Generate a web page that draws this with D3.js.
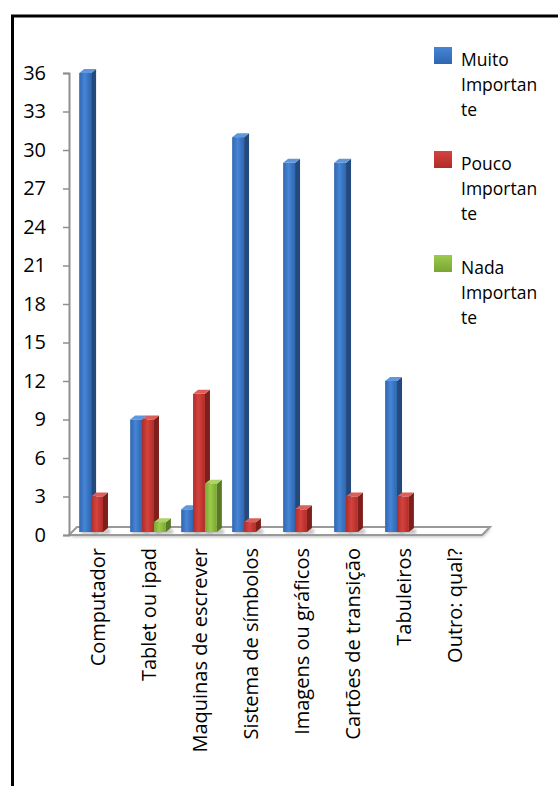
<!DOCTYPE html>
<html>
<head>
<meta charset="utf-8">
<script src="https://cdn.jsdelivr.net/npm/d3@7"></script>
<style>
  html, body { margin: 0; padding: 0; background: #fff; }
  svg { display: block; }
  text { font-family: "Open Sans", Lato, sans-serif; fill: #000; }
</style>
</head>
<body>
<svg id="chart" width="558" height="786"></svg>
<script>
// Recursos e grau de importância
const categories = [
  "Computador", "Tablet ou ipad", "Maquinas de escrever", "Sistema de símbolos",
  "Imagens ou gráficos", "Cartões de transição", "Tabuleiros", "Outro: qual?"
];
const seriesNames = ["Muito Importante", "Pouco Importante", "Nada Importante"];
const legendLines = [["Muito", "Importan", "te"], ["Pouco", "Importan", "te"], ["Nada", "Importan", "te"]];
const muitoImportante = [36, 9, 2, 31, 29, 29, 12, 0];
const poucoImportante = [3, 9, 11, 1, 2, 3, 3, 0];
const nadaImportante  = [0, 1, 4, 0, 0, 0, 0, 0];
const yTicks = [0, 3, 6, 9, 12, 15, 18, 21, 24, 27, 30, 33, 36];

const seriesValues = [muitoImportante, poucoImportante, nadaImportante];
const palette = [
  { front: ["#2f66b0", "#4685d6", "#2f66b0"], side: "#23497d", top: "#5e97dc" },
  { front: ["#b02c28", "#d4433e", "#b02c28"], side: "#7e1f1c", top: "#dd5f5a" },
  { front: ["#7aa534", "#9ccb4c", "#7aa534"], side: "#587a24", top: "#acd465" }
];

const svg = d3.select("#chart");
const defs = svg.append("defs");

// Frame around the chart
svg.append("rect")
  .attr("x", 12.5).attr("y", 16).attr("width", 600).attr("height", 800)
  .attr("fill", "none").attr("stroke", "#000").attr("stroke-width", 3);

const plotLeft = 69, plotRight = 482, plotBottom = 535, plotTop = 73;
const depthX = 5, depthY = 4;

const y = d3.scaleLinear().domain([0, 36]).range([plotBottom, plotTop]);
const x0 = d3.scaleBand().domain(categories).range([plotLeft, plotRight])
  .paddingInner(0.3).paddingOuter(0.2);
const x1 = d3.scaleBand().domain(seriesNames).range([0, x0.bandwidth()]);

// Gradients for bar fronts and legend swatches
palette.forEach((p, i) => {
  const g = defs.append("linearGradient").attr("id", "front" + i)
    .attr("x1", "0%").attr("x2", "100%").attr("y1", "0%").attr("y2", "0%");
  g.append("stop").attr("offset", "0%").attr("stop-color", p.front[0]);
  g.append("stop").attr("offset", "45%").attr("stop-color", p.front[1]);
  g.append("stop").attr("offset", "100%").attr("stop-color", p.front[2]);
  const lg = defs.append("linearGradient").attr("id", "leg" + i)
    .attr("x1", "0%").attr("x2", "0%").attr("y1", "0%").attr("y2", "100%");
  lg.append("stop").attr("offset", "0%").attr("stop-color", p.front[1]);
  lg.append("stop").attr("offset", "100%").attr("stop-color", p.front[0]);
});
const shadow = defs.append("filter").attr("id", "soft").attr("x", "-20%").attr("y", "-20%")
  .attr("width", "140%").attr("height", "160%");
shadow.append("feGaussianBlur").attr("stdDeviation", 1.5);

// Floor of the 3-D plot
const floorPts = [[plotLeft, plotBottom], [plotRight, plotBottom],
  [plotRight + depthX + 3, plotBottom - depthY - 4], [plotLeft + depthX + 3, plotBottom - depthY - 4]];
svg.append("polygon")
  .attr("points", floorPts.map(p => [p[0] + 1, p[1] + 2].join(",")).join(" "))
  .attr("fill", "#bdbdbd").attr("filter", "url(#soft)");
svg.append("polygon")
  .attr("points", floorPts.map(p => p.join(",")).join(" "))
  .attr("fill", "#fff").attr("stroke", "#999").attr("stroke-width", 2);

// Y axis
const yAxis = d3.axisLeft(y).tickValues(yTicks).tickSize(6).tickPadding(8);
const ya = svg.append("g").attr("transform", `translate(${plotLeft},0)`).call(yAxis);
ya.select(".domain").attr("stroke", "#8f8f8f").attr("stroke-width", 2);
ya.selectAll(".tick line").attr("stroke", "#8f8f8f").attr("stroke-width", 1.5);
ya.selectAll(".tick text").attr("font-size", 20).attr("font-family", "'Open Sans', sans-serif")
  .attr("fill", "#000").attr("x", -23);

// Bars, drawn as front / side / top faces
const barData = [];
categories.forEach((c, ci) => {
  seriesNames.forEach((s, si) => {
    const v = seriesValues[si][ci];
    if (v > 0) barData.push({ c, s, si, v });
  });
});
const base = plotBottom - 3;
const bars = svg.append("g").selectAll("g.bar").data(barData).join("g").attr("class", "bar");
bars.each(function (d) {
  const g = d3.select(this);
  const bx = x0(d.c) + x1(d.s);
  const bw = x1.bandwidth();
  const ty = y(d.v);
  const p = palette[d.si];
  // floor shadow
  g.append("rect").attr("x", bx + 2).attr("y", base - 3).attr("width", bw + depthX).attr("height", 5)
    .attr("fill", "#9a9a9a").attr("opacity", 0.6).attr("filter", "url(#soft)");
  g.append("polygon")
    .attr("points", [[bx + bw, ty], [bx + bw + depthX, ty - depthY], [bx + bw + depthX, base - depthY], [bx + bw, base]].map(q => q.join(",")).join(" "))
    .attr("fill", p.side);
  g.append("polygon")
    .attr("points", [[bx, ty], [bx + depthX, ty - depthY], [bx + bw + depthX, ty - depthY], [bx + bw, ty]].map(q => q.join(",")).join(" "))
    .attr("fill", p.top);
  g.append("rect").attr("x", bx).attr("y", ty).attr("width", bw).attr("height", base - ty)
    .attr("fill", `url(#front${d.si})`);
});

// Category labels, rotated
svg.append("g").selectAll("text").data(categories).join("text")
  .attr("transform", d => `translate(${x0(d) + x0.bandwidth() / 2 + 1},548) rotate(-90)`)
  .attr("text-anchor", "end").attr("dy", "0.35em")
  .attr("font-size", 20)
  .text(d => d);

// Legend
const legend = svg.append("g").selectAll("g").data(seriesNames).join("g")
  .attr("transform", (d, i) => `translate(434,${47 + i * 104})`);
legend.append("rect").attr("width", 18).attr("height", 17)
  .attr("fill", (d, i) => `url(#leg${i})`);
legend.append("text").attr("x", 27).attr("y", 19).attr("font-size", 17.5)
  .selectAll("tspan").data((d, i) => legendLines[i]).join("tspan")
  .attr("x", 27).attr("dy", (t, j) => j === 0 ? 0 : 25)
  .text(t => t);
</script>
</body>
</html>
